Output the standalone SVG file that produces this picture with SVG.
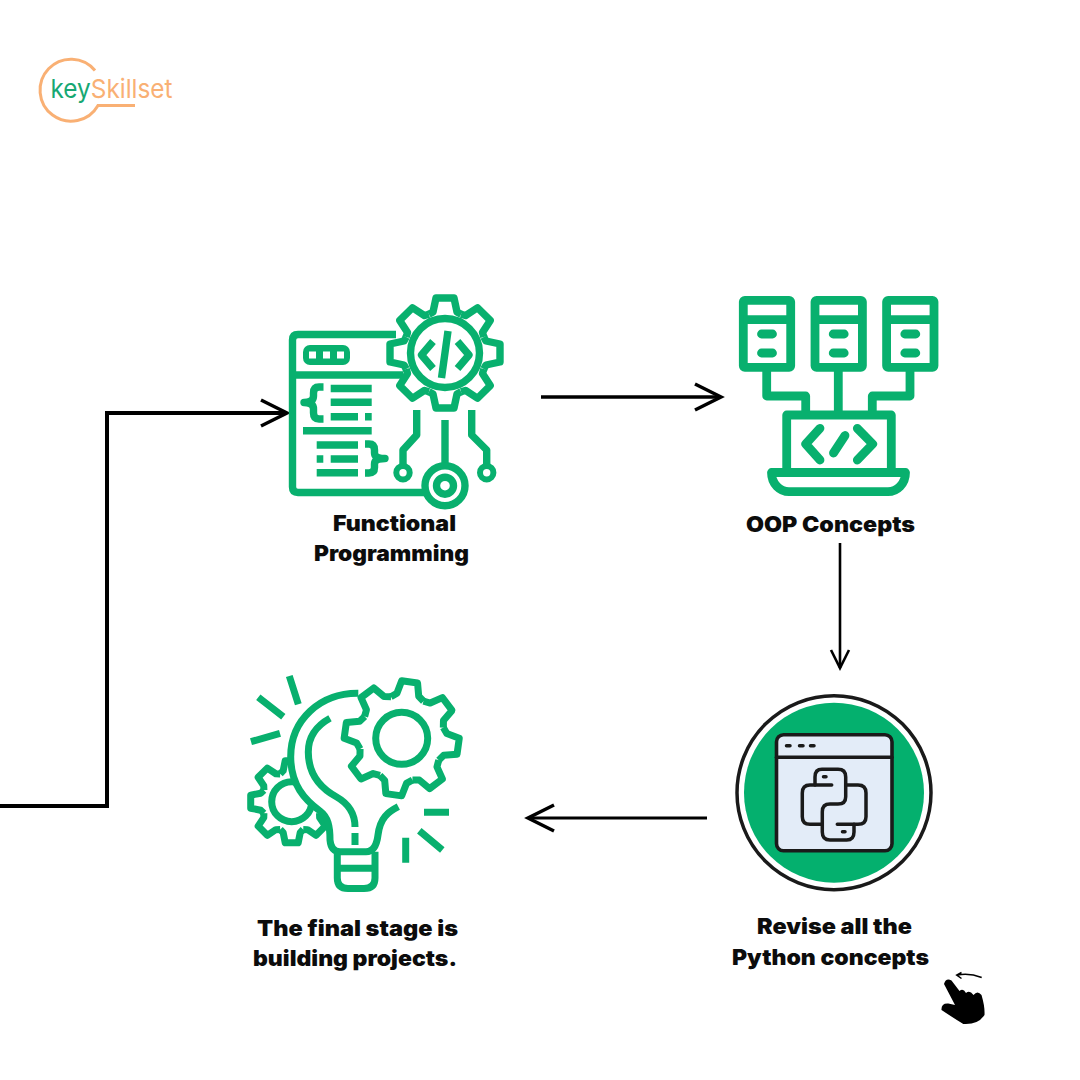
<svg xmlns="http://www.w3.org/2000/svg" width="1080" height="1080" viewBox="0 0 1080 1080">
<style>
.g{fill:none;stroke:#08b06e;stroke-linejoin:round;stroke-linecap:butt}
.gr{fill:none;stroke:#08b06e;stroke-linejoin:round;stroke-linecap:round}
.w7{stroke-width:7.4}.w65{stroke-width:7}.w85{stroke-width:8.8}
.t{font-family:Inter,"Liberation Sans",sans-serif;font-weight:900;font-size:21.5px;fill:#0c0c0c;text-anchor:middle}
.ln{fill:none;stroke:#1a1a1a;stroke-width:3.5;stroke-linejoin:round;stroke-linecap:round}
</style>
<defs>
<marker id="head" markerUnits="userSpaceOnUse" markerWidth="34" markerHeight="34" viewBox="-30 -17 34 34" refX="0" refY="0" orient="auto" overflow="visible"><path d="M-26 -13L0 0L-26 13" fill="none" stroke="#000" stroke-width="3.5" stroke-linejoin="miter"/></marker>
<marker id="headS" markerUnits="userSpaceOnUse" markerWidth="26" markerHeight="26" viewBox="-22 -13 26 26" refX="0" refY="0" orient="auto" overflow="visible"><path d="M-18 -9L0 0L-18 9" fill="none" stroke="#000" stroke-width="2.6"/></marker>
<path id="t1" d="M-16.1 -38.8L-12 -41L-9 -55H9L12 -41L16.1 -38.8"/>
<path id="t2" d="M-16.5 -39.7L-11 -44L-8 -57H8L11 -44L16.5 -39.7"/>
<path id="t3" d="M-11.5 -27.8L-8.5 -31L-6.5 -41H6.5L8.5 -31L11.5 -27.8"/>
<g id="srv" class="g w85"><rect x="743.3" y="300.3" width="47.4" height="67" rx="1.5"/><path d="M743.3 319.7H790.7"/><path class="gr" d="M761.5 334H772.5M761.5 353H772.5"/></g>
</defs>
<rect width="1080" height="1080" fill="#fff"/>

<g id="logo">
<path d="M95 70.5A31 31 0 1 0 98 105.5H135" fill="none" stroke="#f9b074" stroke-width="3"/>
<text x="50.5" y="97.5" font-family="Inter,'Open Sans',sans-serif" font-size="26" textLength="122" lengthAdjust="spacingAndGlyphs" fill="#f9b074"><tspan fill="#17a873">key</tspan>Skillset</text>
</g>

<g id="connectors">
<path d="M0 806H107V413H287" fill="none" stroke="#000" stroke-width="4" marker-end="url(#head)"/>
<path d="M541 397H721" fill="none" stroke="#000" stroke-width="3.5" marker-end="url(#head)"/>
<path d="M840 543V668" fill="none" stroke="#000" stroke-width="2.6" marker-end="url(#headS)"/>
<path d="M707 818H528" fill="none" stroke="#000" stroke-width="3" marker-end="url(#head)"/>
</g>

<g id="node-functional">
<path class="g w7" d="M396 334.5H298Q292.5 334.5 292.5 340V487Q292.5 492.5 298 492.5H426"/>
<path class="g w7" d="M292.5 375H403"/>
<rect x="303" y="345" width="47" height="20" rx="7" fill="#08b06e"/>
<g fill="#fff"><rect x="309" y="351.5" width="7" height="7"/><rect x="323" y="351.5" width="7" height="7"/><rect x="337" y="351.5" width="7" height="7"/></g>
<g transform="translate(445 353)" class="g w7">
<use href="#t1"/><use href="#t1" transform="rotate(45)"/><use href="#t1" transform="rotate(90)"/><use href="#t1" transform="rotate(135)"/><use href="#t1" transform="rotate(180)"/><use href="#t1" transform="rotate(225)"/><use href="#t1" transform="rotate(270)"/><use href="#t1" transform="rotate(315)"/>
<circle r="34.5"/>
</g>
<path class="g w7" d="M433 341.5L421.5 355L433 368.5M457.5 341.5L469 355L457.5 368.5M448 331L441.5 378"/>
<path class="g w7" d="M416.7 410V435L403 450V466M445 420V463M471.7 410V435L486.7 450V466"/>
<circle cx="403" cy="472.7" r="6.7" class="g" stroke-width="6"/>
<circle cx="486.7" cy="472.7" r="6.7" class="g" stroke-width="6"/>
<circle cx="445" cy="485.7" r="20" class="g w7"/>
<circle cx="445" cy="485.7" r="8.5" class="g w7"/>
<path class="g w7" d="M330.7 388.5H371.7M330.7 402.3H371.7M330.7 416.7H358M365 416.7H371.7M303 430.7H371.7M316.7 445H358M316.7 459H323.3M330.7 459H358M316.7 472.7H358"/>
<path class="g w7" d="M323.5 387H319Q313.5 387 313.5 393V396Q313.5 402.5 304 402.5Q313.5 402.5 313.5 409V413Q313.5 419 319 419H323.5"/>
<path class="g w7" d="M365 444H369Q374.5 444 374.5 450V453Q374.5 458.5 385 458.5Q374.5 458.5 374.5 464V467.5Q374.5 473 369 473H365"/>
<text class="t" x="394.5" y="531" textLength="123" lengthAdjust="spacingAndGlyphs">Functional</text>
<text class="t" x="391.5" y="561" textLength="155" lengthAdjust="spacingAndGlyphs">Programming</text>
</g>

<g id="node-oop">
<use href="#srv"/><use href="#srv" x="71.7"/><use href="#srv" x="143.3"/>
<path class="g w85" d="M766.7 371V396H805.7V411M838.3 371V411M910 371V396H872.3V411"/>
<path class="g w85" d="M786.7 472V415H891.3V472"/>
<path class="g w85" d="M771.5 472.5H905.5C905.5 484 897 491.7 888 491.7H789C780 491.7 771.5 484 771.5 472.5Z"/>
<path class="gr w85" d="M820 428.3L805.7 444L820 460M857.3 428.3L872.7 444L857.3 460M845 435.5L833.5 453"/>
<text class="t" x="830.5" y="531.5" textLength="169" lengthAdjust="spacingAndGlyphs">OOP Concepts</text>
</g>

<g id="node-revise">
<circle cx="834" cy="792.7" r="97" fill="#fff" stroke="#1a1a1a" stroke-width="3.5"/>
<circle cx="834" cy="792.7" r="90" fill="#04b06e"/>
<rect x="776.5" y="734.8" width="115.5" height="116" rx="7" fill="#e3ecf8" stroke="#1a1a1a" stroke-width="3.6"/>
<path class="ln" d="M776.5 757.3H892"/>
<path class="ln" d="M786.5 745.7H790M799.5 745.7H803M810.5 745.7H814"/>
<path class="ln" d="M831.7 785H815V777Q815 769.3 822 769.3H838Q845.7 769.3 845.7 777V796.7Q845.7 804 838 804H830Q822.3 804 822.3 811.7V832Q822.3 840 830 840H846.7Q854 840 854 832V824.3H837.3"/>
<path class="ln" d="M815 785H810Q802.3 785 802.3 793V816.7Q802.3 824.3 810 824.3H822.3"/>
<path class="ln" d="M845.7 785H858Q866 785 866 793V816.7Q866 824.3 858 824.3H854"/>
<path class="ln" d="M823.5 776.7H826M842.5 831.7H845"/>
<text class="t" x="834.5" y="934" textLength="155" lengthAdjust="spacingAndGlyphs">Revise all the</text>
<text class="t" x="830.5" y="965" textLength="197" lengthAdjust="spacingAndGlyphs">Python concepts</text>
</g>

<g id="hand">
<path d="M981.7 977.5Q969 972.5 957.5 975M961.5 972.5L956.7 975L961.5 978.5" fill="none" stroke="#000" stroke-width="1.5"/>
<path d="M944 984Q946 977.5 951.5 980.5L959.5 991Q963 987.5 966 993Q969.5 989.5 973.5 995Q977.5 990 981.5 995Q985 1006.7 984.5 1015Q978 1025 963.3 1024Q955 1019 941.5 1010Q941 1003 948.3 1003.5L955 1005Z" fill="#000"/>
</g>

<g id="node-final">
<g transform="translate(291.7 801.7)" class="g w65">
<use href="#t3"/><use href="#t3" transform="rotate(45)"/><use href="#t3" transform="rotate(90)"/><use href="#t3" transform="rotate(135)"/><use href="#t3" transform="rotate(180)"/><use href="#t3" transform="rotate(225)"/><use href="#t3" transform="rotate(270)"/><use href="#t3" transform="rotate(315)"/>
<circle r="20"/>
</g>
<path d="M358.3 693.3C320 693 290.7 720 290.7 756.7C290.7 785 305 800 320 811C328 817 330 826 330 840Q331 851.7 340 851.7H366Q376 851.7 378 835C380 818 388 812 398.3 806.7" fill="#fff" stroke="#08b06e" stroke-width="7"/>
<path class="g w65" d="M330 718.3C316 726 308.3 737 308.3 752C308.3 776 322 789 336.7 797C349 804 355 815 355 827M355 833V845"/>
<path class="g w65" d="M337.3 851.7V878Q337.3 888.5 348 888.5H364Q375 888.5 375 878V851.7M337.3 868.3H375"/>
<g transform="translate(401.7 738.3) rotate(8)" class="g w65">
<use href="#t2"/><use href="#t2" transform="rotate(45)"/><use href="#t2" transform="rotate(90)"/><use href="#t2" transform="rotate(135)"/><use href="#t2" transform="rotate(180)"/><use href="#t2" transform="rotate(225)"/><use href="#t2" transform="rotate(270)"/><use href="#t2" transform="rotate(315)"/>
</g>
<circle cx="401.7" cy="738.3" r="26" class="g w65"/>
<path class="g w65" d="M289.3 676L298.3 704.3M258.3 697.3L283.3 716.7M251 741.7L280 733.3M424 812.3H449M419.3 830.7L442.3 850M405.7 837.7V862.7"/>
<text class="t" x="357.5" y="936" textLength="201" lengthAdjust="spacingAndGlyphs">The final stage is</text>
<text class="t" x="355" y="966" textLength="204" lengthAdjust="spacingAndGlyphs">building projects.</text>
</g>
</svg>
